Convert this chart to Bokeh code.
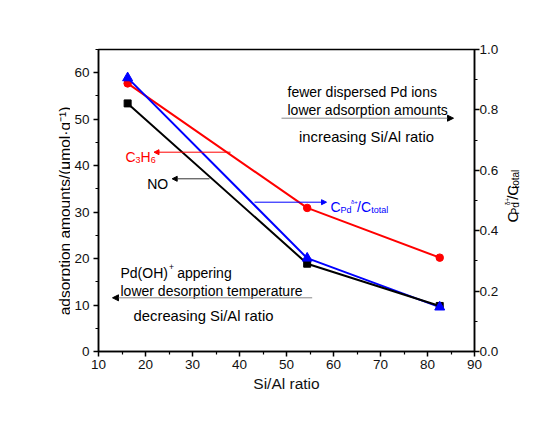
import math
from bokeh.plotting import figure
from bokeh.layouts import row
from bokeh.models import (Range1d, LinearAxis, FixedTicker, PrintfTickFormatter,
                          Label, Arrow, NormalHead, ColumnDataSource)
from bokeh.embed import file_html
from bokeh.resources import INLINE

# ---- data ----
si_al = [16.2, 54.4, 82.6]
no_ads = [53.4, 18.9, 9.8]
c3h6_ads = [57.7, 30.9, 20.2]
pd_ratio = [0.906, 0.309, 0.147]

x_ticks = [10, 20, 30, 40, 50, 60, 70, 80, 90]
y_ticks = [0, 10, 20, 30, 40, 50, 60]
y2_ticks = [0.0, 0.2, 0.4, 0.6, 0.8, 1.0]

FONT = "Liberation Sans"
H = 405
# x positions (picture pixels) of the three canvases
LX0, MX0, RX0, RX1 = 0, 70, 501, 534
# plot frame in picture pixels
FL, FR, FT, FB = 98, 474, 49, 351

p = figure(width=RX0 - MX0, height=H, output_backend="svg", toolbar_location=None,
           x_range=Range1d(10, 90), y_range=Range1d(0, 65),
           min_border_left=FL - MX0, min_border_right=RX0 - FR,
           min_border_top=FT, min_border_bottom=H - FB)
p.extra_y_ranges = {"right": Range1d(0, 1)}
p.grid.visible = False
p.outline_line_color = "black"
p.outline_line_width = 1.5
p.outline_line_alpha = 1.0
p.background_fill_color = "white"
p.border_fill_color = "white"

def px2x(px):
    return 10 + (px - FL) * 80.0 / (FR - FL)

def py2y(py):
    return (FB - py) * 65.0 / (FB - FT)

def style_axis(ax, standoff):
    ax.axis_line_color = "black"
    ax.axis_line_width = 1.5
    ax.major_tick_line_width = 1.5
    ax.minor_tick_line_width = 1.2
    ax.major_tick_in = 0
    ax.major_tick_out = 5
    ax.minor_tick_in = 0
    ax.minor_tick_out = 3
    ax.major_label_text_font = FONT
    ax.major_label_text_font_size = "13.5px"
    ax.major_label_text_color = "#111111"
    ax.major_label_standoff = standoff

xa = p.xaxis[0]
xa.ticker = FixedTicker(ticks=x_ticks, minor_ticks=[15, 25, 35, 45, 55, 65, 75, 85])
style_axis(xa, 3)
xa.axis_label = "Si/Al ratio"
xa.axis_label_text_font = FONT
xa.axis_label_text_font_size = "15.5px"
xa.axis_label_text_font_style = "normal"
xa.axis_label_text_color = "#111111"
xa.axis_label_standoff = 3

ya = p.yaxis[0]
ya.ticker = FixedTicker(ticks=y_ticks, minor_ticks=[5, 15, 25, 35, 45, 55, 65])
style_axis(ya, 4)

ra = LinearAxis(y_range_name="right",
                ticker=FixedTicker(ticks=y2_ticks, minor_ticks=[0.1, 0.3, 0.5, 0.7, 0.9]),
                formatter=PrintfTickFormatter(format="%.1f"))
style_axis(ra, 0)
p.add_layout(ra, "right")

src = ColumnDataSource(dict(x=si_al, no=no_ads, c3=c3h6_ads, r=pd_ratio))

p.line("x", "c3", source=src, line_color="red", line_width=2)
p.scatter("x", "c3", source=src, marker="circle", size=7.5, fill_color="red", line_color="red")
p.line("x", "r", source=src, y_range_name="right", line_color="blue", line_width=2)
p.line("x", "no", source=src, line_color="black", line_width=2)
p.scatter("x", "no", source=src, marker="square", size=7, fill_color="black", line_color="black")
p.scatter("x", "r", source=src, y_range_name="right", marker="triangle", size=10,
          fill_color="blue", line_color="blue")

def lab(text, px, py, size="14px", color="black", align="left", angle=0):
    p.add_layout(Label(x=px2x(px), y=py2y(py), text=text, text_font=FONT,
                       text_font_size=size, text_color=color, text_align=align,
                       text_baseline="alphabetic", angle=angle))

def arrow(px0, py0, px1, color, head_color, size=6):
    p.add_layout(Arrow(x_start=px2x(px0), y_start=py2y(py0), x_end=px2x(px1), y_end=py2y(py0),
                       line_color=color, line_width=1,
                       end=NormalHead(size=size, fill_color=head_color, line_color=head_color)))

# top-right annotation
lab("fewer dispersed Pd ions", 287, 91.7)
lab("lower adsorption amounts", 287, 109.3)
arrow(281, 117.7, 453, "#888888", "black")
lab("increasing Si/Al ratio", 366, 136.7, size="14.8px", align="center")

# bottom-left annotation
lab("Pd(OH)", 120, 272.7)
lab("+", 168.6, 266.5, size="8.5px")
lab("appering", 176.7, 272.7)
lab("lower desorption temperature", 120, 290)
arrow(311.7, 297.3, 112, "#888888", "black")
lab("decreasing Si/Al ratio", 203, 315.3, size="14.8px", align="center")

# C3H6
arrow(230, 151.7, 153.5, "red", "red", size=5)
lab("C", 125, 156, color="red")
lab("3", 135.1, 159, size="9px", color="red")
lab("H", 140.1, 156, color="red")
lab("6", 150.2, 159, size="9px", color="red")

# NO
arrow(209, 178.3, 171.7, "#333333", "black", size=5)
lab("NO", 146.7, 183.3)

# C_Pd/C_total
arrow(254, 201.7, 326, "blue", "blue", size=5)
lab("C", 330, 206.5, color="blue")
lab("Pd", 340.1, 209.5, size="9px", color="blue")
lab("\u03b4+", 350.5, 201, size="6px", color="blue")
lab("/C", 356.5, 206.5, color="blue")
lab("total", 370.8, 209.5, size="9px", color="blue")


def side_fig(x0, x1):
    f = figure(width=x1 - x0, height=H, output_backend="svg", toolbar_location=None,
               x_range=Range1d(x0, x1), y_range=Range1d(H, 0),
               x_axis_location=None, y_axis_location=None,
               min_border=0, min_border_left=0, min_border_right=0,
               min_border_top=0, min_border_bottom=0)
    f.grid.visible = False
    f.outline_line_color = None
    f.background_fill_color = "white"
    f.border_fill_color = "white"
    return f

def slab(f, text, px, py, size="15px", color="black", align="left", angle=math.pi / 2):
    # picture-pixel position; the side figure's ranges are picture pixels (y flipped)
    f.add_layout(Label(x=px, y=py, text=text, text_font=FONT, text_font_size=size,
                       text_color=color, text_align=align, text_baseline="alphabetic",
                       angle=angle))

left = side_fig(LX0, MX0)
slab(left, "adsorption amounts/(\u03bcmol\u00b7g\u207b\u00b9)", 63.5, 216.5, size="15.5px",
     align="center")

right = side_fig(RX0, RX1)
bx = 512
slab(right, "C", bx, 232)
slab(right, "Pd", bx + 3, 221.2, size="10px")
slab(right, "\u03b4+", bx - 5.5, 209.0, size="6.5px")
slab(right, "/C", bx, 201.6)
slab(right, "total", bx + 3, 186.6, size="10px")

layout = row(left, p, right, spacing=0)
open("out.html", "w").write(file_html(layout, INLINE))
